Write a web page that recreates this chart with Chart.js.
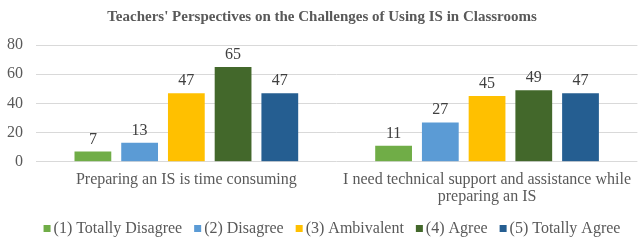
<!DOCTYPE html>
<html>
<head>
<meta charset="utf-8">
<script src="https://cdn.jsdelivr.net/npm/chart.js@4/dist/chart.umd.min.js"></script>
<style>
  html, body { margin: 0; padding: 0; background: #fff; }
  #wrap { width: 640px; height: 240px; }
</style>
</head>
<body>
<div id="wrap"><canvas id="chart"></canvas></div>
<script>
// data
const categories = [
    'Preparing an IS is time consuming',
    ['I need technical support and assistance while', 'preparing an IS']
];
const seriesNames = ['(1) Totally Disagree', '(2) Disagree', '(3) Ambivalent', '(4) Agree', '(5) Totally Agree'];
const totallyDisagree = [7, 11];
const disagree = [13, 27];
const ambivalent = [47, 45];
const agree = [65, 49];
const totallyAgree = [47, 47];
const yTicks = [0, 20, 40, 60, 80];

const colors = ['#70AD47', '#5B9BD5', '#FFC000', '#43682B', '#255E91'];
const serif = '"Liberation Serif", "Times New Roman", serif';

// draws the value over each bar
const valueLabels = {
    id: 'valueLabels',
    afterDatasetsDraw(chart) {
        const ctx = chart.ctx;
        ctx.save();
        ctx.font = '16px ' + serif;
        ctx.fillStyle = '#404040';
        ctx.textAlign = 'center';
        ctx.textBaseline = 'alphabetic';
        chart.data.datasets.forEach((ds, i) => {
            chart.getDatasetMeta(i).data.forEach((bar, j) => {
                ctx.fillText(ds.data[j], bar.x, bar.y - 8);
            });
        });
        ctx.restore();
    }
};

// legend like the Excel one: small square, text close to it
const bottomLegend = {
    id: 'bottomLegend',
    afterDraw(chart) {
        const ctx = chart.ctx;
        const box = 7, gapText = 3, gapItem = 12;
        ctx.save();
        ctx.font = '16px ' + serif;
        ctx.textBaseline = 'middle';
        ctx.textAlign = 'left';
        const items = chart.data.datasets.map(ds => ({
            text: ds.label,
            color: ds.backgroundColor,
            w: box + gapText + ctx.measureText(ds.label).width
        }));
        const total = items.reduce((s, it) => s + it.w, 0) + gapItem * (items.length - 1);
        let x = 332 - total / 2;
        const y = 229;
        items.forEach(it => {
            ctx.fillStyle = it.color;
            ctx.fillRect(x, y - 4, box, box);
            ctx.fillStyle = '#595959';
            ctx.fillText(it.text, x + box + gapText, y);
            x += it.w + gapItem;
        });
        ctx.restore();
    }
};

const allSeries = [totallyDisagree, disagree, ambivalent, agree, totallyAgree];

new Chart(document.getElementById('chart'), {
    type: 'bar',
    data: {
        labels: categories,
        datasets: allSeries.map((vals, i) => ({
            label: seriesNames[i],
            data: vals,
            backgroundColor: colors[i],
            categoryPercentage: 0.777,
            barPercentage: 0.787
        }))
    },
    options: {
        responsive: true,
        maintainAspectRatio: false,
        animation: false,
        layout: { padding: { left: 0, right: -4, top: 0, bottom: 25 } },
        scales: {
            x: {
                grid: { display: false, drawTicks: false },
                border: { display: false },
                ticks: {
                    color: '#595959',
                    font: { family: serif, size: 16, lineHeight: 1.1 },
                    maxRotation: 0,
                    padding: 9
                }
            },
            y: {
                min: 0,
                max: 80,
                afterBuildTicks: axis => { axis.ticks = yTicks.map(v => ({ value: v })); },
                afterFit: axis => { axis.width = 36; },
                grid: { color: '#d9d9d9', lineWidth: 1, drawTicks: false },
                border: { display: false },
                ticks: {
                    color: '#595959',
                    font: { family: serif, size: 16 },
                    padding: 13
                }
            }
        },
        plugins: {
            title: {
                display: true,
                text: "Teachers' Perspectives on the Challenges of Using IS in Classrooms",
                color: '#595959',
                font: { family: serif, size: 15, weight: 'bold' },
                padding: { top: 8, bottom: 19 }
            },
            legend: { display: false },
            tooltip: { enabled: false }
        }
    },
    plugins: [valueLabels, bottomLegend]
});
</script>
</body>
</html>
